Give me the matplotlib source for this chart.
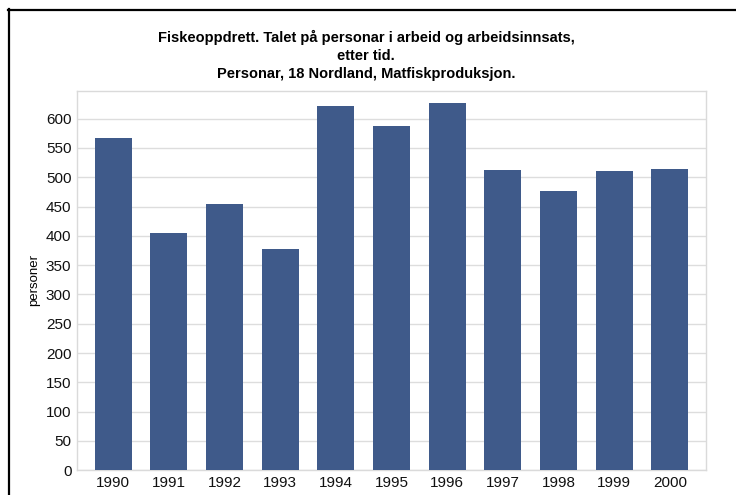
import matplotlib
matplotlib.use("Agg")
import matplotlib.pyplot as plt
from matplotlib.lines import Line2D

years = ["1990", "1991", "1992", "1993", "1994", "1995", "1996", "1997", "1998", "1999", "2000"]
personar = [567, 405, 454, 378, 622, 587, 627, 513, 477, 511, 514]
yticks = [0, 50, 100, 150, 200, 250, 300, 350, 400, 450, 500, 550, 600]
title = ("Fiskeoppdrett. Talet på personar i arbeid og arbeidsinnsats,\n"
         "etter tid.\n"
         "Personar, 18 Nordland, Matfiskproduksjon.")
ylabel = "personer"

plt.rcParams['font.family'] = ['Liberation Sans', 'DejaVu Sans']

fig = plt.figure(figsize=(7.36, 4.95), dpi=100)
ax = fig.add_axes([77/736, 1 - 470.3/495, (706 - 77)/736, (470.3 - 90.5)/495])

x = list(range(len(years)))
ax.bar(x, personar, width=0.665, color="#3F5A8A", zorder=3)
ax.set_xlim(-0.65, len(years) - 1 + 0.65)
ax.set_ylim(0, 648)
ax.set_yticks(yticks)
ax.set_xticks(x)
ax.set_xticklabels(years)
ax.tick_params(axis='both', length=0, labelsize=11, colors="#111111", pad=4)
ax.grid(axis='y', color="#DDDDDD", linewidth=1, zorder=0)
for s in ax.spines.values():
    s.set_color("#DADADA")
    s.set_linewidth(1)
ax.set_ylabel(ylabel, fontsize=9.5, labelpad=4)

fig.text(366/736, 1 - 30/495, title, ha='center', va='top', fontsize=10.5,
         fontweight='bold', linespacing=1.38)

# outer black frame (cropped at right and bottom)
fig.add_artist(Line2D([9/736, 9/736], [0, 1 - 9/495], color='black', linewidth=1.6,
                      transform=fig.transFigure))
fig.add_artist(Line2D([8/736, 1], [1 - 10/495, 1 - 10/495], color='black', linewidth=1.6,
                      transform=fig.transFigure))

fig.savefig("out.png", dpi=100)
